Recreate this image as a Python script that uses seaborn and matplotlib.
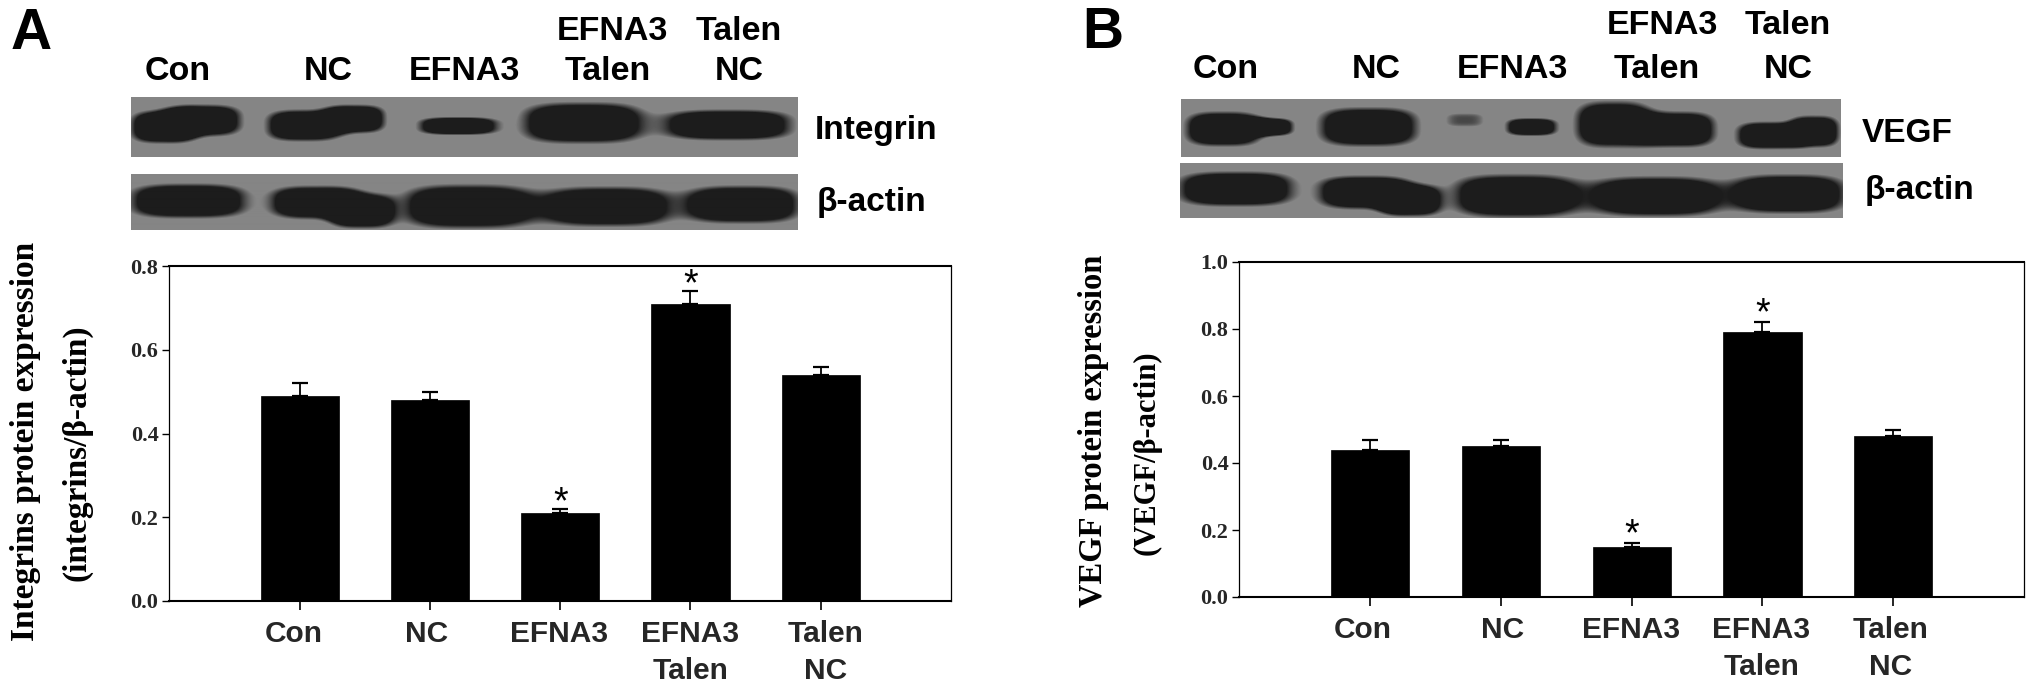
import numpy as np
import pandas as pd
import matplotlib
matplotlib.use('Agg')
import matplotlib.pyplot as plt
from matplotlib.transforms import ScaledTranslation
import seaborn as sns

W, H = 2031, 690

groups = ['Con', 'NC', 'EFNA3', 'EFNA3\nTalen', 'Talen\nNC']

integrin_vals = [0.49, 0.48, 0.21, 0.71, 0.54]
integrin_errs = [0.03, 0.02, 0.01, 0.03, 0.02]
integrin_stars = [2, 3]
integrin_ticks = [0.0, 0.2, 0.4, 0.6, 0.8]
integrin_label_shift = [-6, -3, -1, 0, 5]

vegf_vals = [0.44, 0.45, 0.15, 0.79, 0.48]
vegf_errs = [0.03, 0.02, 0.01, 0.03, 0.02]
vegf_stars = [2, 3]
vegf_ticks = [0.0, 0.2, 0.4, 0.6, 0.8, 1.0]
vegf_label_shift = [-7, 2, -1, -1, -3]

bands_integrin = [(131, 195, 111, 142, 1.0), (165, 240, 105, 135, 1.0), (267, 340, 110, 140, 1.0),
                  (325, 384, 105, 132, 1.0), (419, 496, 117, 134, 1.0),
                  (523, 642, 103, 142, 1.0), (665, 790, 110, 139, 1.0)]
bands_actin_a = [(131, 245, 185, 217, 1.0), (271, 360, 187, 218, 1.0), (330, 392, 195, 227, 1.0),
                 (404, 533, 186, 227, 1.0), (544, 669, 188, 225, 1.0), (686, 798, 187, 222, 1.0)]
bands_vegf = [(1186, 1260, 112, 145, 1.0), (1245, 1292, 118, 135, 1.0), (1320, 1416, 108, 145, 1.0),
              (1441, 1488, 111, 128, 0.4), (1506, 1556, 118, 135, 0.95),
              (1576, 1650, 102, 146, 1.0), (1640, 1714, 112, 146, 1.0),
              (1737, 1800, 122, 148, 1.0), (1790, 1838, 116, 146, 1.0)]
bands_actin_b = [(1179, 1292, 172, 205, 1.0), (1319, 1410, 176, 208, 1.0), (1380, 1439, 185, 215, 1.0),
                 (1454, 1578, 175, 216, 1.0), (1592, 1720, 177, 215, 1.0), (1733, 1844, 175, 212, 1.0)]

SANS = 'Liberation Sans'
SERIF = 'Liberation Serif'


def px_axes(fig, x0, y0, x1, y1):
    return fig.add_axes([x0 / W, 1 - y1 / H, (x1 - x0) / W, (y1 - y0) / H])


def label(fig, x, y, s, size, family=SANS, ha='center', rotation=0):
    fig.text(x / W, 1 - y / H, s, fontsize=size, family=family, fontweight='bold',
             ha=ha, va='center', rotation=rotation, color='black')


def draw_blot(fig, x0, x1, y0, y1, bands, bg=0.52):
    ax = px_axes(fig, x0, y0, x1, y1)
    xx, yy = np.meshgrid(np.arange(x0, x1), np.arange(y0, y1))
    # lobes add up so that neighbouring ones melt into one band
    field = np.zeros(xx.shape)
    for bx0, bx1, by0, by1, strength in bands:
        cx, cy = (bx0 + bx1) / 2, (by0 + by1) / 2
        rx, ry = (bx1 - bx0) / 2, (by1 - by0) / 2
        r = (np.abs(xx - cx) / rx) ** 3.2 + (np.abs(yy - cy) / ry) ** 3.2
        field += strength * np.exp(-r)
    dark = np.clip((field - 0.25) / 0.25, 0, 1)
    img = bg - (bg - 0.11) * dark
    ax.imshow(img, cmap='gray', vmin=0, vmax=1, aspect='auto', interpolation='bilinear')
    ax.axis('off')


def draw_bars(fig, box, vals, errs, ticks, stars, ymax, star_gap, shifts):
    ax = px_axes(fig, *box)
    df = pd.DataFrame({'group': groups, 'value': vals})
    sns.barplot(data=df, x='group', y='value', color='black', saturation=1, width=0.6,
                edgecolor='black', linewidth=0.5, ax=ax)
    ax.errorbar(range(len(vals)), vals, yerr=[np.zeros(len(errs)), errs], fmt='none',
                ecolor='black', elinewidth=1.3, capsize=6, capthick=1.6)
    for i in stars:
        ax.text(i, vals[i] + errs[i] + star_gap, '*', ha='center', va='center',
                fontsize=27, family=SANS, color='black')
    ax.set_xlim(-1, 5)
    ax.set_ylim(0, ymax)
    ax.set_yticks(ticks)
    ax.set_yticklabels([f'{t:.1f}' for t in ticks], fontsize=16, family=SERIF, fontweight='bold')
    ax.set_xticks(range(len(groups)))
    ax.set_xticklabels(groups, fontsize=21.5, family=SANS, fontweight='bold', linespacing=1.42)
    ax.tick_params(axis='y', length=5, width=1, pad=3, left=True, color='black')
    ax.tick_params(axis='x', length=6.5, width=1.2, pad=7, bottom=True, color='black')
    for lab, dx in zip(ax.get_xticklabels(), shifts):
        lab.set_transform(lab.get_transform() + ScaledTranslation(dx / 100, 0, fig.dpi_scale_trans))
    ax.set_xlabel('')
    ax.set_ylabel('')
    for side in ['left', 'right']:
        ax.spines[side].set_linewidth(0.9)
    for side in ['top', 'bottom']:
        ax.spines[side].set_linewidth(1.5)
    for spine in ax.spines.values():
        spine.set_color('black')
        spine.set_visible(True)
    return ax


def main():
    sns.set_theme(style='white')
    fig = plt.figure(figsize=(W / 100, H / 100), dpi=100, facecolor='white')

    # panel A
    label(fig, 11, 34, 'A', 41, ha='left')
    for x, y, s in [(178, 72, 'Con'), (328, 72, 'NC'), (464, 72, 'EFNA3'),
                    (612, 31, 'EFNA3'), (608, 72, 'Talen'), (739, 31, 'Talen'), (739, 72, 'NC')]:
        label(fig, x, y, s, 24.5)
    draw_blot(fig, 131, 798, 97, 157, bands_integrin)
    draw_blot(fig, 131, 798, 174, 230, bands_actin_a)
    label(fig, 815, 130, 'Integrin', 24, ha='left')
    label(fig, 817, 202, 'β-actin', 24, ha='left')
    draw_bars(fig, (169.5, 266, 951, 601), integrin_vals, integrin_errs, integrin_ticks,
              integrin_stars, 0.8, 0.014, integrin_label_shift)
    label(fig, 26, 441, 'Integrins protein expression', 24, family=SERIF, rotation=90)
    label(fig, 77, 453, '(integrins/β-actin)', 24, family=SERIF, rotation=90)

    # panel B
    label(fig, 1082, 33, 'B', 41, ha='left')
    for x, y, s in [(1226, 69, 'Con'), (1376, 69, 'NC'), (1512, 69, 'EFNA3'),
                    (1662, 26, 'EFNA3'), (1657, 69, 'Talen'), (1788, 26, 'Talen'), (1788, 69, 'NC')]:
        label(fig, x, y, s, 24.5)
    draw_blot(fig, 1181, 1841, 99, 157, bands_vegf)
    draw_blot(fig, 1180, 1843, 163, 218, bands_actin_b)
    label(fig, 1862, 134, 'VEGF', 24, ha='left')
    label(fig, 1865, 190, 'β-actin', 24, ha='left')
    draw_bars(fig, (1239.5, 262, 2024, 597), vegf_vals, vegf_errs, vegf_ticks,
              vegf_stars, 1.0, 0.023, vegf_label_shift)
    label(fig, 1094, 431, 'VEGF protein expression', 23.5, family=SERIF, rotation=90)
    label(fig, 1147, 453, '(VEGF/β-actin)', 22, family=SERIF, rotation=90)

    fig.savefig('out.png', dpi=100)
    plt.close(fig)


if __name__ == '__main__':
    main()
